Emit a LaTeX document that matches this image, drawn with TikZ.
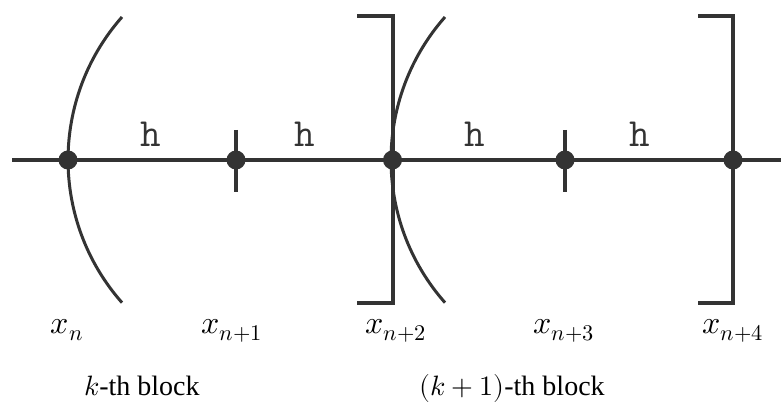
\documentclass[tikz,border=0pt]{standalone}
\usepackage{fontspec}
\usepackage{unicode-math}
\setmainfont{Liberation Serif}
\setmathfont{Latin Modern Math}
\usetikzlibrary{positioning}
\definecolor{ink}{HTML}{333333}
\tikzset{
  axis/.style={line width=4.5pt, color=ink},
  gridpt/.style={circle, fill=ink, inner sep=0pt, minimum size=19pt},
  tick/.style={line width=3.5pt, color=ink},
  bracket/.style={line width=4pt, color=ink},
  blockarc/.style={line width=3pt, color=ink},
  hlabel/.style={font=\fontsize{40}{42}\selectfont\ttfamily, text=ink, anchor=base},
  ptlabel/.style={font=\fontsize{32}{34}\selectfont, anchor=base},
  blocklabel/.style={font=\fontsize{28}{30}\selectfont, anchor=base}
}
\begin{document}
\begin{tikzpicture}[x=1pt, y=-1pt]
    \useasboundingbox (0,0) rectangle (781,403);
    % the grid line
    \coordinate (start) at (12,160); \coordinate (end) at (781,160);
    \draw[axis] (start) -- (end);

    % block boundaries: arcs open, brackets close
    \draw[blockarc] (122,17) arc[start angle=-138.6, end angle=-221.4, radius=216];
    \draw[blockarc] (445,17) arc[start angle=-138.6, end angle=-221.4, radius=216];
    \draw[bracket] (357,16) -- (392.5,16) -- (392.5,303) -- (357,303);
    \draw[bracket] (698,16) -- (733,16) -- (733,303) -- (698,303);

    % interior ticks
    \draw[tick] (236,130) -- (236,192);
    \draw[tick] (565,130) -- (565,192);

    % grid points
    \node[gridpt] (p0) at (68,160) {}; \node[gridpt] (p1) at (236,160) {}; \node[gridpt] (p2) at (392.5,160) {};
    \node[gridpt] (p3) at (565,160) {}; \node[gridpt] (p4) at (733,160) {};

    \node[hlabel] (h1) at (151,147) {h}; \node[hlabel] (h2) at (305,147) {h};
    \node[hlabel] (h3) at (475,147) {h}; \node[hlabel] (h4) at (640,147) {h};

    \node[ptlabel] (l0) at (67,333) {$x_n$}; \node[ptlabel] (l1) at (232,333) {$x_{n+1}$};
    \node[ptlabel] (l2) at (396,333) {$x_{n+2}$}; \node[ptlabel] (l3) at (564,333) {$x_{n+3}$};
    \node[ptlabel] (l4) at (733,333) {$x_{n+4}$};

    \node[blocklabel] (b1) at (142,395) {$k$-th block};
    \node[blocklabel] (b2) at (512,395) {$(k+1)$-th block};
\end{tikzpicture}
\end{document}
